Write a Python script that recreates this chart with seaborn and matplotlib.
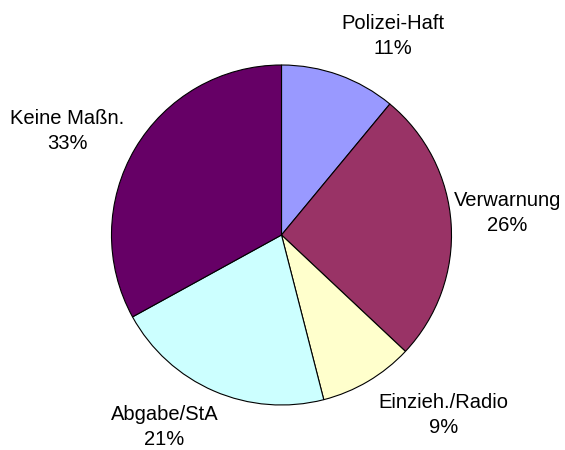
import matplotlib
matplotlib.use("Agg")
import matplotlib.pyplot as plt
import seaborn as sns

categories = ["Polizei-Haft", "Verwarnung", "Einzieh./Radio", "Abgabe/StA", "Keine Maßn."]
values = [11, 26, 9, 21, 33]
colors = ["#9999FF", "#993366", "#FFFFCC", "#CCFFFF", "#660066"]

# label nudges (layout only, in pie-radius units)
label_nudges = [(0.206, -0.071), (0.012, 0.046), (0.281, 0.077), (-0.164, 0.082), (-0.123, -0.060)]

sns.set_theme(style="white")
plt.rcParams['font.family'] = ['Liberation Sans', 'DejaVu Sans']

fig = plt.figure(figsize=(5.65, 4.5), dpi=100)
fig.patch.set_facecolor("white")
cx, cy, r = 281.5, 235, 170
ax = fig.add_axes([(cx - r) / 565, (450 - cy - r) / 450, 2 * r / 565, 2 * r / 450])

labels = [f"{c}\n{v}%" for c, v in zip(categories, values)]
wedges, texts = ax.pie(values, labels=labels, colors=colors, startangle=90, counterclock=False,
                       radius=1, labeldistance=1.32,
                       wedgeprops=dict(edgecolor="black", linewidth=0.8),
                       textprops=dict(fontsize=14.5, color="black", linespacing=1.4))
ax.set_xlim(-1, 1)
ax.set_ylim(-1, 1)
ax.axis("off")
for t, (dx, dy) in zip(texts, label_nudges):
    x, y = t.get_position()
    t.set_position((x + dx, y + dy))
    t.set_ha("center")
    t.set_va("center")
    t.set_multialignment("center")
    t.set_clip_on(False)

fig.savefig("out.png", dpi=100, facecolor="white")
